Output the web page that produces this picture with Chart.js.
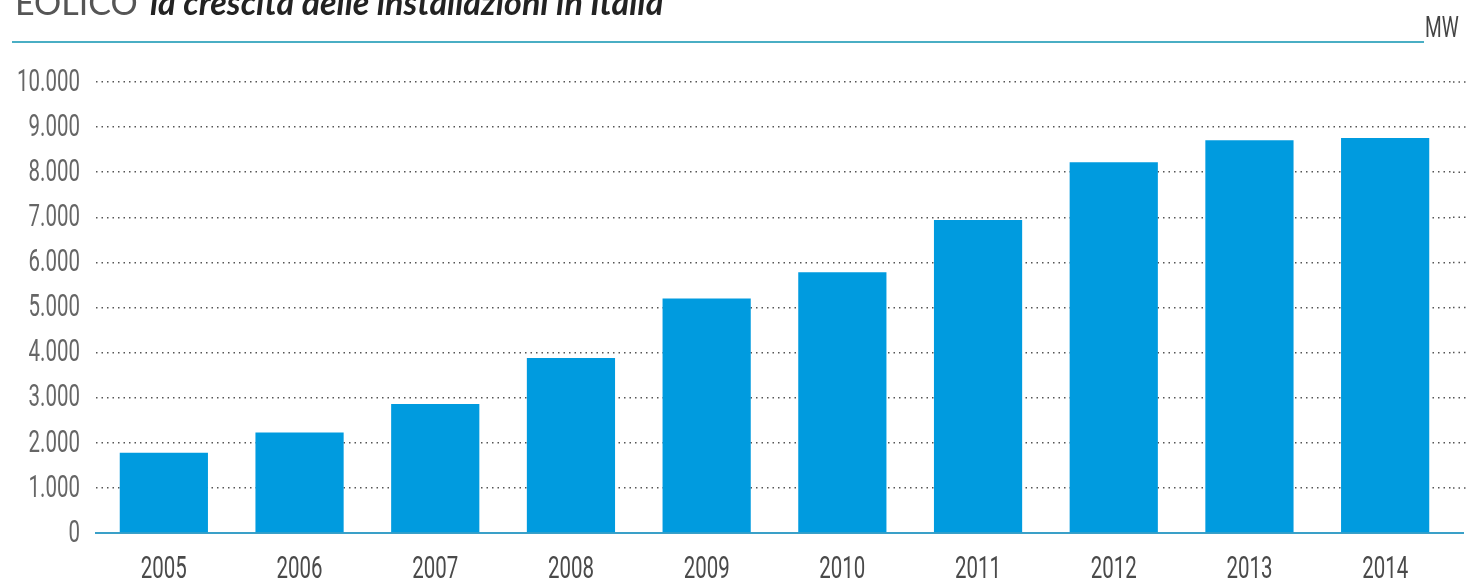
<!DOCTYPE html>
<html>
<head>
<meta charset="utf-8">
<title>Eolico</title>
<script src="https://cdn.jsdelivr.net/npm/chart.js@4"></script>
<style>
  body { margin: 0; background: #fff; }
  .wrap { position: relative; width: 1470px; height: 587px; }
</style>
</head>
<body>
<div class="wrap"><canvas id="chart"></canvas></div>
<script>
const years = ["2005", "2006", "2007", "2008", "2009", "2010", "2011", "2012", "2013", "2014"];
const installedMW = [1780, 2230, 2860, 3880, 5200, 5780, 6940, 8220, 8710, 8760];
const yTicks = [0, 1000, 2000, 3000, 4000, 5000, 6000, 7000, 8000, 9000, 10000];

const titleLead = "EOLICO";
const titleRest = "la crescita delle installazioni in Italia";
const unitLabel = "MW";

// thousands with a dot, as in Italian
const fmt = (v) => String(v).replace(/\B(?=(\d{3})+(?!\d))/g, ".");

// narrow labels: regular face squeezed horizontally
const LABEL_FONT = "31px Roboto";
const SQUEEZE = 0.66;
const RULE_END = 1467;

function narrowText(ctx, text, x, y, align, color, font) {
  ctx.save();
  ctx.translate(x, y);
  ctx.scale(SQUEEZE, 1);
  ctx.font = font || LABEL_FONT;
  ctx.fillStyle = color;
  ctx.textAlign = align;
  ctx.textBaseline = "middle";
  ctx.fillText(text, 0, 0);
  ctx.restore();
}

// dotted gridlines and the zero line run a little past the plot area
const gridTail = {
  id: "gridTail",
  beforeDatasetsDraw(chart) {
    const ctx = chart.ctx;
    const ys = chart.scales.y;
    const right = chart.chartArea.right;
    ctx.save();
    ctx.lineWidth = 1.5;
    ctx.strokeStyle = "#555";
    ctx.setLineDash([1.5, 4]);
    ys.ticks.forEach((t, i) => {
      if (t.value === 0) return;
      const y = ys.getPixelForTick(i);
      ctx.beginPath();
      ctx.moveTo(right, y);
      ctx.lineTo(RULE_END, y);
      ctx.stroke();
    });
    ctx.setLineDash([]);
    ctx.lineWidth = 2;
    ctx.strokeStyle = "#3aa0c8";
    const y0 = ys.getPixelForValue(0);
    ctx.beginPath();
    ctx.moveTo(right, y0);
    ctx.lineTo(RULE_END - 3, y0);
    ctx.stroke();
    ctx.restore();
  }
};

// tick labels placed with the chart's own scales
const axisLabels = {
  id: "axisLabels",
  afterDraw(chart) {
    const ctx = chart.ctx;
    const xs = chart.scales.x;
    const ys = chart.scales.y;
    ys.ticks.forEach((t, i) => {
      narrowText(ctx, fmt(t.value), chart.chartArea.left - 16, ys.getPixelForTick(i) + 1, "right", "#666");
    });
    xs.ticks.forEach((t, i) => {
      narrowText(ctx, chart.data.labels[t.value], xs.getPixelForTick(i), chart.chartArea.bottom + 37, "center", "#4a4a4a");
    });
  }
};

// header: title, teal rule and unit
const header = {
  id: "header",
  afterDraw(chart) {
    const ctx = chart.ctx;
    ctx.save();
    ctx.textBaseline = "alphabetic";
    ctx.textAlign = "left";

    ctx.fillStyle = "#555";
    ctx.font = "34px Lato";
    ctx.fillText(titleLead, 15, 15, 128);

    ctx.fillStyle = "#222";
    ctx.font = "italic bold 34px Lato";
    ctx.fillText(titleRest, 150, 15, 593);

    ctx.strokeStyle = "#4aaec4";
    ctx.lineWidth = 2;
    ctx.beginPath();
    ctx.moveTo(12, 42);
    ctx.lineTo(1424, 42);
    ctx.stroke();
    ctx.restore();

    ctx.save();
    ctx.translate(1425, 37);
    ctx.scale(SQUEEZE, 1);
    ctx.font = "29px Roboto";
    ctx.fillStyle = "#444";
    ctx.textBaseline = "alphabetic";
    ctx.fillText(unitLabel, 0, 0);
    ctx.restore();
  }
};

new Chart(document.getElementById("chart"), {
  type: "bar",
  data: {
    labels: years,
    datasets: [{
      data: installedMW,
      backgroundColor: "#009bdf",
      borderWidth: 0,
      categoryPercentage: 1,
      barPercentage: 0.65
    }]
  },
  options: {
    responsive: true,
    maintainAspectRatio: false,
    animation: false,
    layout: { padding: { left: 0, right: 17, top: 82, bottom: 0 } },
    plugins: {
      legend: { display: false },
      tooltip: { enabled: false },
      title: { display: false }
    },
    scales: {
      x: {
        grid: { display: false, drawTicks: false },
        border: { display: true, color: "#3aa0c8", width: 2 },
        ticks: { display: false },
        afterFit(scale) { scale.height = 54; }
      },
      y: {
        min: 0,
        max: 10000,
        afterBuildTicks(scale) {
          scale.ticks = yTicks.map((v) => ({ value: v }));
        },
        grid: {
          drawTicks: false,
          lineWidth: 1.5,
          color: (c) => (c.tick && c.tick.value === 0 ? "rgba(0,0,0,0)" : "#555")
        },
        border: { display: false, dash: [1.5, 4] },
        ticks: { display: false },
        afterFit(scale) { scale.width = 96; }
      }
    }
  },
  plugins: [gridTail, axisLabels, header]
});
</script>
</body>
</html>
